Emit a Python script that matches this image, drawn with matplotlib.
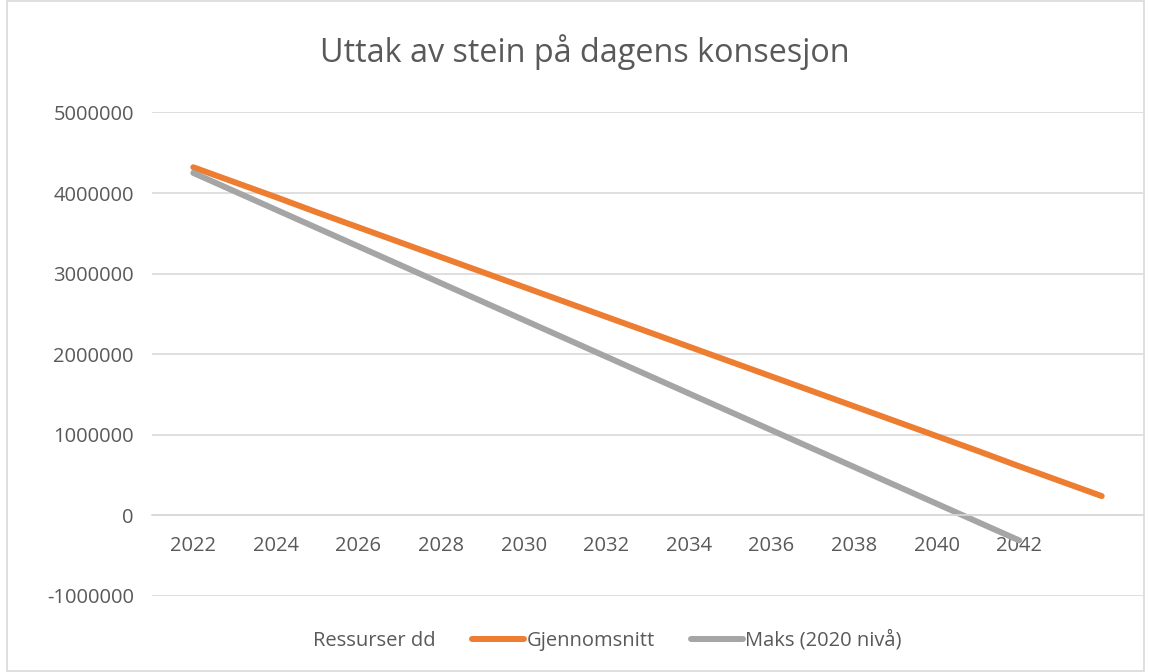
import matplotlib.pyplot as plt
from matplotlib.lines import Line2D
from matplotlib.patches import Rectangle

plt.rcParams['font.family'] = ['Open Sans', 'DejaVu Sans']

years_avg = list(range(2022, 2045))
gjennomsnitt = [4320000, 4135000, 3950000, 3760000, 3575000, 3390000, 3205000, 3020000,
                2835000, 2650000, 2465000, 2280000, 2095000, 1910000, 1725000, 1540000,
                1355000, 1170000, 985000, 800000, 610000, 425000, 240000]
years_max = list(range(2022, 2043))
maks = [4250000, 4022000, 3794000, 3566000, 3338000, 3110000, 2882000, 2654000,
        2426000, 2198000, 1970000, 1742000, 1514000, 1286000, 1058000, 830000,
        602000, 374000, 146000, -82000, -310000]
ressurser = []
year_ticks = list(range(2022, 2043, 2))
y_ticks = [-1000000, 0, 1000000, 2000000, 3000000, 4000000, 5000000]

txt = '#595959'
fig = plt.figure(figsize=(11.49, 6.72), dpi=100)
ax = fig.add_axes([0.1323, 0.1131, 0.8625, 0.7195])

ax.plot(years_avg, gjennomsnitt, color='#ED7D31', lw=4.3, solid_capstyle='round')
ax.plot(years_max, maks, color='#A5A5A5', lw=4.3, solid_capstyle='round')

ax.set_xlim(2021, 2045)
ax.set_ylim(-1000000, 5000000)
ax.set_yticks(y_ticks)
ax.set_yticklabels([str(v) for v in y_ticks])
ax.set_xticks(year_ticks)
ax.set_xticklabels([str(y) for y in year_ticks])
ax.grid(axis='y', color='#D9D9D9', lw=1.2)
ax.set_axisbelow(True)
for s in ['top', 'right', 'left']:
    ax.spines[s].set_visible(False)
ax.spines['bottom'].set_position(('data', 0))
ax.spines['bottom'].set_color('#D9D9D9')
ax.spines['bottom'].set_linewidth(1.2)
ax.tick_params(axis='both', length=0, labelsize=14.5, colors=txt)
ax.tick_params(axis='y', pad=13)
ax.tick_params(axis='x', pad=15)

fig.text(0.509, 0.922, 'Uttak av stein på dagens konsesjon', ha='center', va='center',
         fontsize=23.3, color=txt)

handles = [Line2D([], [], color='white', lw=4.3),
           Line2D([], [], color='#ED7D31', lw=4.3, solid_capstyle='round'),
           Line2D([], [], color='#A5A5A5', lw=4.3, solid_capstyle='round')]
fig.legend(handles, ['Ressurser dd', 'Gjennomsnitt', 'Maks (2020 nivå)'],
           loc='center', bbox_to_anchor=(0.505, 0.047), ncol=3, frameon=False,
           fontsize=14.5, labelcolor=txt, handlelength=2.6, handletextpad=0.1,
           columnspacing=1.8)

fig.patches.append(Rectangle((0.006, 0.002), 0.99, 0.996, transform=fig.transFigure,
                             fill=False, edgecolor='#D9D9D9', lw=1.2))

fig.savefig('out.png', dpi=100)
